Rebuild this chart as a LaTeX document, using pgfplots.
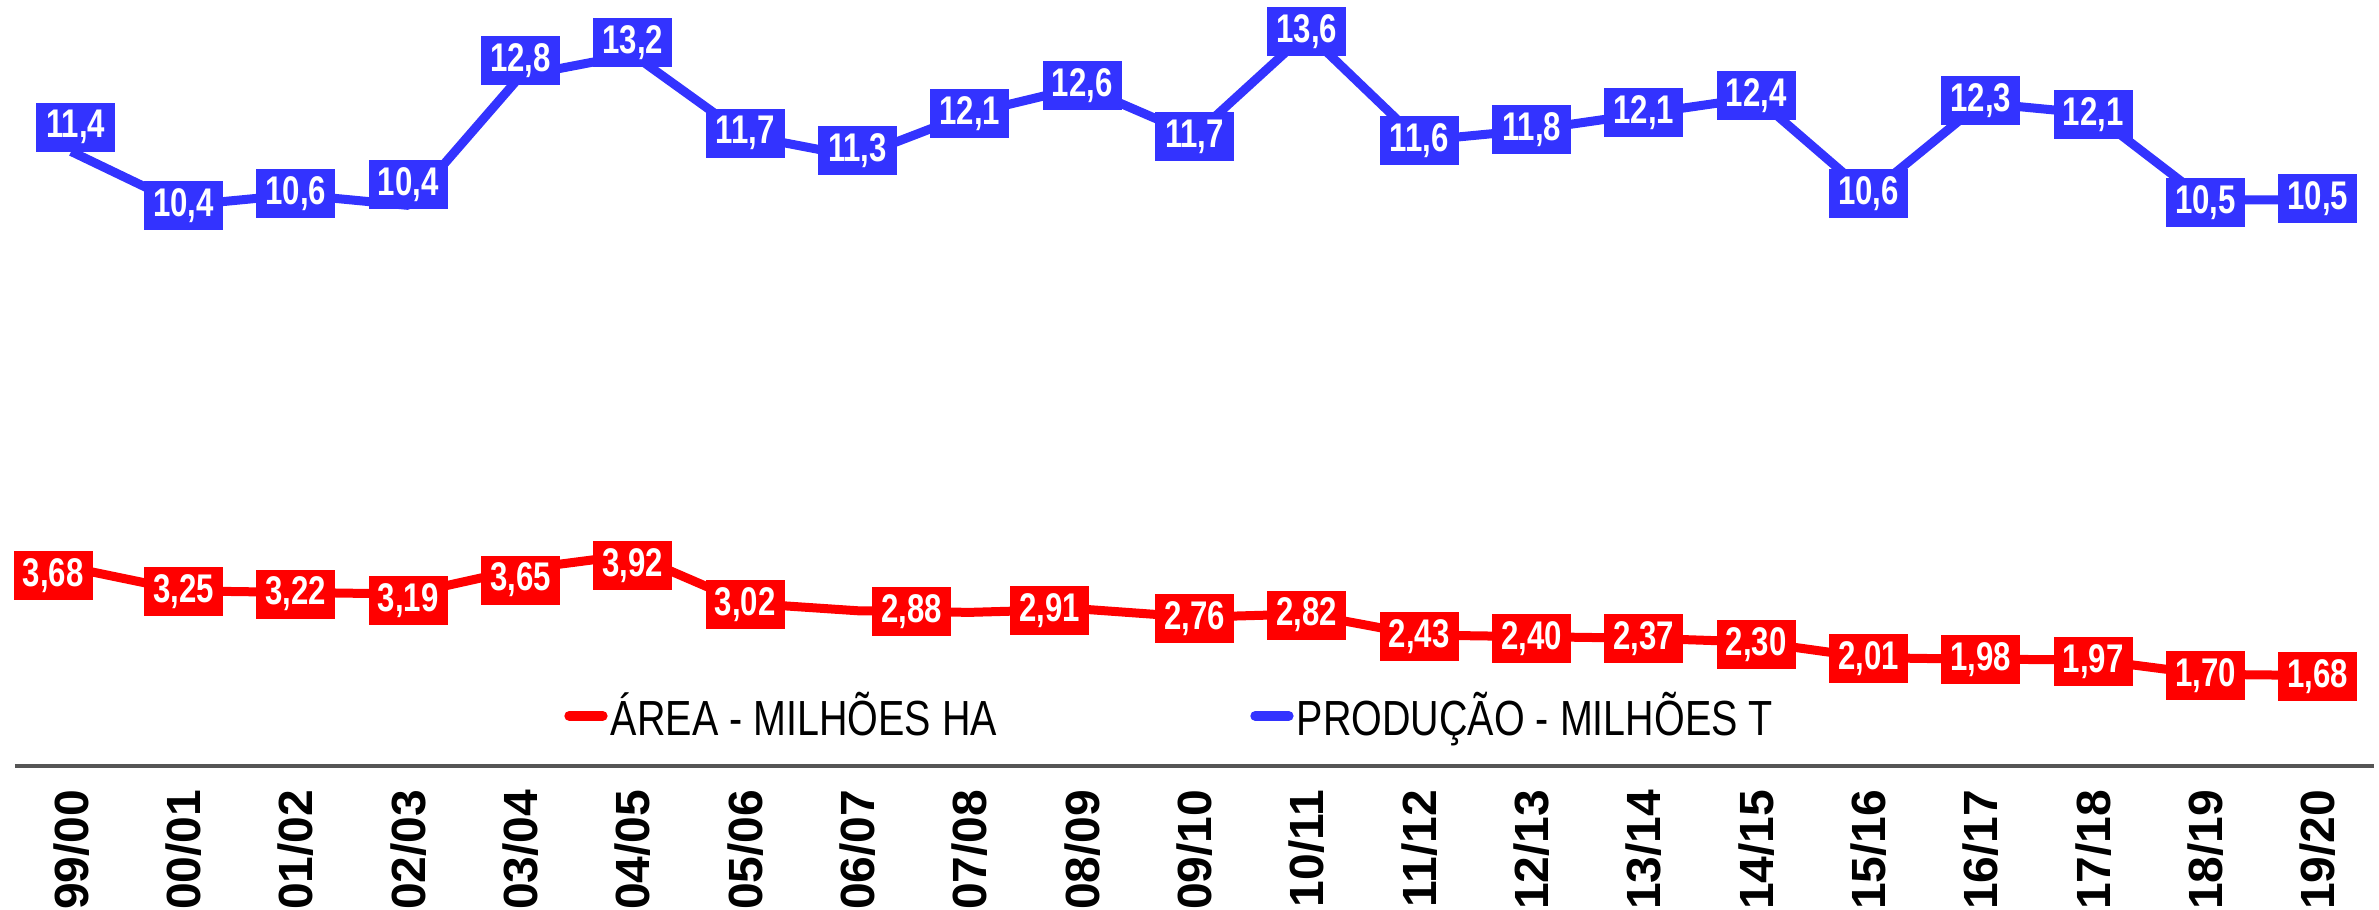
\documentclass[border=0pt]{standalone}
\usepackage{fontspec}
\setmainfont{Liberation Sans}
\newfontfamily\labfont{Liberation Sans}[FakeStretch=0.78]
\newfontfamily\legfont{Liberation Sans}[FakeStretch=0.8]
\usepackage{pgfplots}
\pgfplotsset{compat=1.18}
\definecolor{pblue}{RGB}{51,51,255}
\definecolor{pred}{RGB}{255,0,0}
\definecolor{axgray}{RGB}{85,85,85}

\pgfplotstableread{
x y lab
-0.16 3.53 3,68
1 3.23 3,25
2 3.19 3,22
3 3.07 3,19
4 3.45 3,65
5 3.72 3,92
6 2.99 3,02
7.48 2.86 2,88
8.71 2.88 2,91
10 2.74 2,76
11 2.80 2,82
12 2.40 2,43
13 2.37 2,40
14 2.36 2,37
15 2.26 2,30
16 1.99 2,01
17 1.97 1,98
18 1.94 1,97
19 1.67 1,70
20 1.66 1,68
}\redlabels

\pgfplotstableread{
x y lab
0.04 11.85 11,4
1 10.40 10,4
2 10.62 10,6
3 10.79 10,4
4 13.09 12,8
5 13.42 13,2
6 11.74 11,7
7 11.41 11,3
8 12.10 12,1
9 12.63 12,6
10 11.68 11,7
11 13.63 13,6
12 11.61 11,6
13 11.80 11,8
14 12.12 12,1
15 12.43 12,4
16 10.62 10,6
17 12.34 12,3
18 12.09 12,1
19 10.46 10,5
20 10.53 10,5
}\bluelabels

\begin{document}
\begin{tikzpicture}
\begin{axis}[
  width=707.7pt, height=226.4pt, scale only axis,
  xmin=-0.5, xmax=20.5, ymin=0, ymax=14,
  clip=false,
  axis y line=none,
  axis x line*=bottom,
  x axis line style={line width=1.2pt, color=axgray},
  xtick={0,...,20},
  xticklabels={99/00,00/01,01/02,02/03,03/04,04/05,05/06,06/07,07/08,08/09,09/10,10/11,11/12,12/13,13/14,14/15,15/16,16/17,17/18,18/19,19/20},
  major tick length=0pt,
  xticklabel style={rotate=90, anchor=east, inner sep=0pt, text=black, font=\bfseries\fontsize{14.4}{16}\selectfont},
  xticklabel shift=6.9pt,
  legend columns=2,
  legend style={at={(axis cs:4.39,0.93)}, anchor=west, draw=none, fill=none,
    inner sep=0pt, outer sep=0pt,
    font=\legfont\fontsize{14.8}{16}\selectfont,
    nodes={inner xsep=1pt, inner ysep=0pt},
    /tikz/every even column/.append style={column sep=75pt}},
  legend image code/.code={\draw[#1, line width=3pt, line cap=round] (1.5pt,0pt) -- (11.5pt,0pt);},
]
\addplot[pred, line width=2.7pt, line join=round, mark=none] coordinates {
(0,3.68) (1,3.25) (2,3.22) (3,3.19) (4,3.65) (5,3.92) (6,3.02) (7,2.88) (8,2.85) (9,2.91)
(10,2.76) (11,2.82) (12,2.43) (13,2.40) (14,2.37) (15,2.30) (16,2.01) (17,1.98) (18,1.97) (19,1.70) (20,1.68)};
\addlegendentry{ÁREA - MILHÕES HA}
\addplot[pblue, line width=2.7pt, line join=round, mark=none] coordinates {
(0,11.4) (1,10.4) (2,10.6) (3,10.4) (4,12.8) (5,13.2) (6,11.7) (7,11.3) (8,12.1) (9,12.6)
(10,11.7) (11,13.6) (12,11.6) (13,11.8) (14,12.1) (15,12.4) (16,10.6) (17,12.3) (18,12.1) (19,10.5) (20,10.5)};
\addlegendentry{PRODUÇÃO - MILHÕES T}

\addplot[forget plot, draw=none, mark=none, nodes near coords, point meta=explicit symbolic,
  nodes near coords align=center,
  nodes near coords style={fill=pred, text=white, font=\labfont\bfseries\fontsize{12}{13}\selectfont,
    minimum width=23.7pt, minimum height=14.7pt, inner sep=0pt, anchor=center}]
  table[x=x, y=y, meta=lab] {\redlabels};
\addplot[forget plot, draw=none, mark=none, nodes near coords, point meta=explicit symbolic,
  nodes near coords align=center,
  nodes near coords style={fill=pblue, text=white, font=\labfont\bfseries\fontsize{12}{13}\selectfont,
    minimum width=23.7pt, minimum height=14.7pt, inner sep=0pt, anchor=center}]
  table[x=x, y=y, meta=lab] {\bluelabels};
\end{axis}
\pgfresetboundingbox
\path[use as bounding box] (-4.5pt,-42.9pt) rectangle (709.2pt,229.8pt);
\end{tikzpicture}
\end{document}
